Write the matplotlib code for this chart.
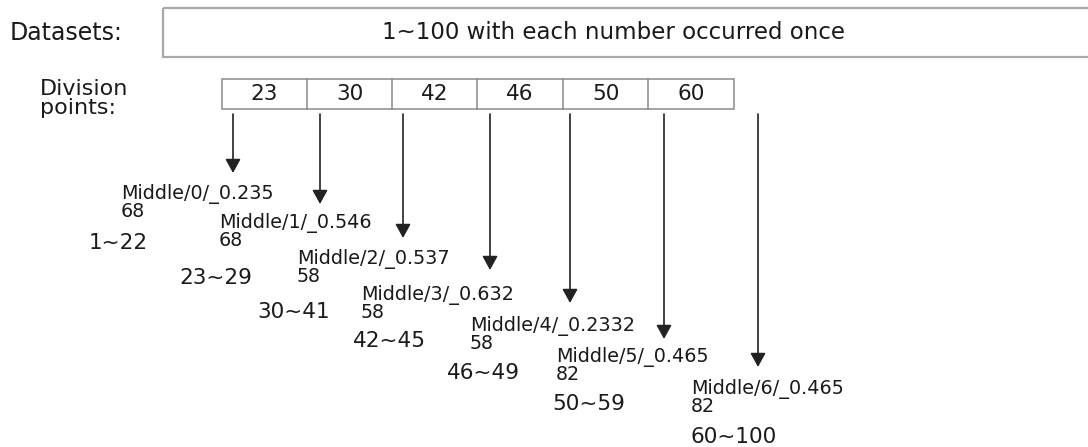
import matplotlib
matplotlib.use("Agg")
import matplotlib.pyplot as plt
from matplotlib.patches import Rectangle

# ---- data ----
dataset_label = "Datasets:"
dataset_text = "1~100 with each number occurred once"
division_label = ["Division", "points:"]
division_points = [23, 30, 42, 46, 50, 60]
node_names = ["Middle/0/_0.235", "Middle/1/_0.546", "Middle/2/_0.537", "Middle/3/_0.632",
              "Middle/4/_0.2332", "Middle/5/_0.465", "Middle/6/_0.465"]
node_counts = ["68", "68", "58", "58", "58", "82", "82"]
ranges = ["1~22", "23~29", "30~41", "42~45", "46~49", "50~59", "60~100"]

# ---- layout (pixel coordinates) ----
W, H = 1088, 447
cell_edges = [222, 307, 392, 477, 563, 648, 734]
box_top, box_bot = 79, 109
arrow_x = [233, 320, 403, 490, 570, 664, 758]
arrow_top = 114
arrow_tip = [173, 204, 238, 270, 303, 339, 367]
# baseline of the count (second) line of each node label
name_pos = [(121, 217), (219, 246), (297, 282), (361, 318), (470, 349), (556, 380), (691, 412)]
range_pos = [(89, 249), (179, 284), (257, 318), (353, 347), (447, 379), (552, 410), (691, 443)]

fig = plt.figure(figsize=(W / 100, H / 100), dpi=100)
ax = fig.add_axes([0, 0, 1, 1])
ax.set_xlim(0, W)
ax.set_ylim(H, 0)
ax.axis("off")

FONT = "DejaVu Sans"
TXT = "#1a1a1a"

# Datasets row
ax.text(10, 40, dataset_label, fontsize=17, family=FONT, color=TXT, va="baseline")
ax.add_patch(Rectangle((163, 8), 1000, 49, fill=False, edgecolor="#a8a8a8", lw=1.6))
ax.text(613, 39, dataset_text, fontsize=16.5, family=FONT, color=TXT, va="baseline", ha="center")

# Division points row
ax.text(40, 114, "\n".join(division_label), fontsize=16, family=FONT, color=TXT,
        va="baseline", linespacing=0.95)
ax.add_patch(Rectangle((cell_edges[0], box_top), cell_edges[-1] - cell_edges[0], box_bot - box_top,
                       fill=False, edgecolor="#8a8a8a", lw=1.1))
for xe in cell_edges[1:-1]:
    ax.plot([xe, xe], [box_top, box_bot], color="#8a8a8a", lw=1.1)
for i, v in enumerate(division_points):
    cx = (cell_edges[i] + cell_edges[i + 1]) / 2
    ax.text(cx, 100, str(v), fontsize=15.5, family=FONT, color=TXT, va="baseline", ha="center")

# Arrows
for x, tip in zip(arrow_x, arrow_tip):
    ax.annotate("", xy=(x, tip), xytext=(x, arrow_top),
                arrowprops=dict(arrowstyle="-|>,head_length=0.4,head_width=0.22",
                                mutation_scale=21, color="#222222", lw=1.2,
                                shrinkA=0, shrinkB=0))

# Node labels (name + count on two lines)
for (x, y), name, cnt in zip(name_pos, node_names, node_counts):
    ax.text(x, y, name + "\n" + cnt, fontsize=13.8, family=FONT, color=TXT,
            va="baseline", linespacing=0.85)

for (x, y), r in zip(range_pos, ranges):
    ax.text(x, y, r, fontsize=15.5, family=FONT, color=TXT, va="baseline")

fig.savefig("out.png", dpi=100, facecolor="white")
